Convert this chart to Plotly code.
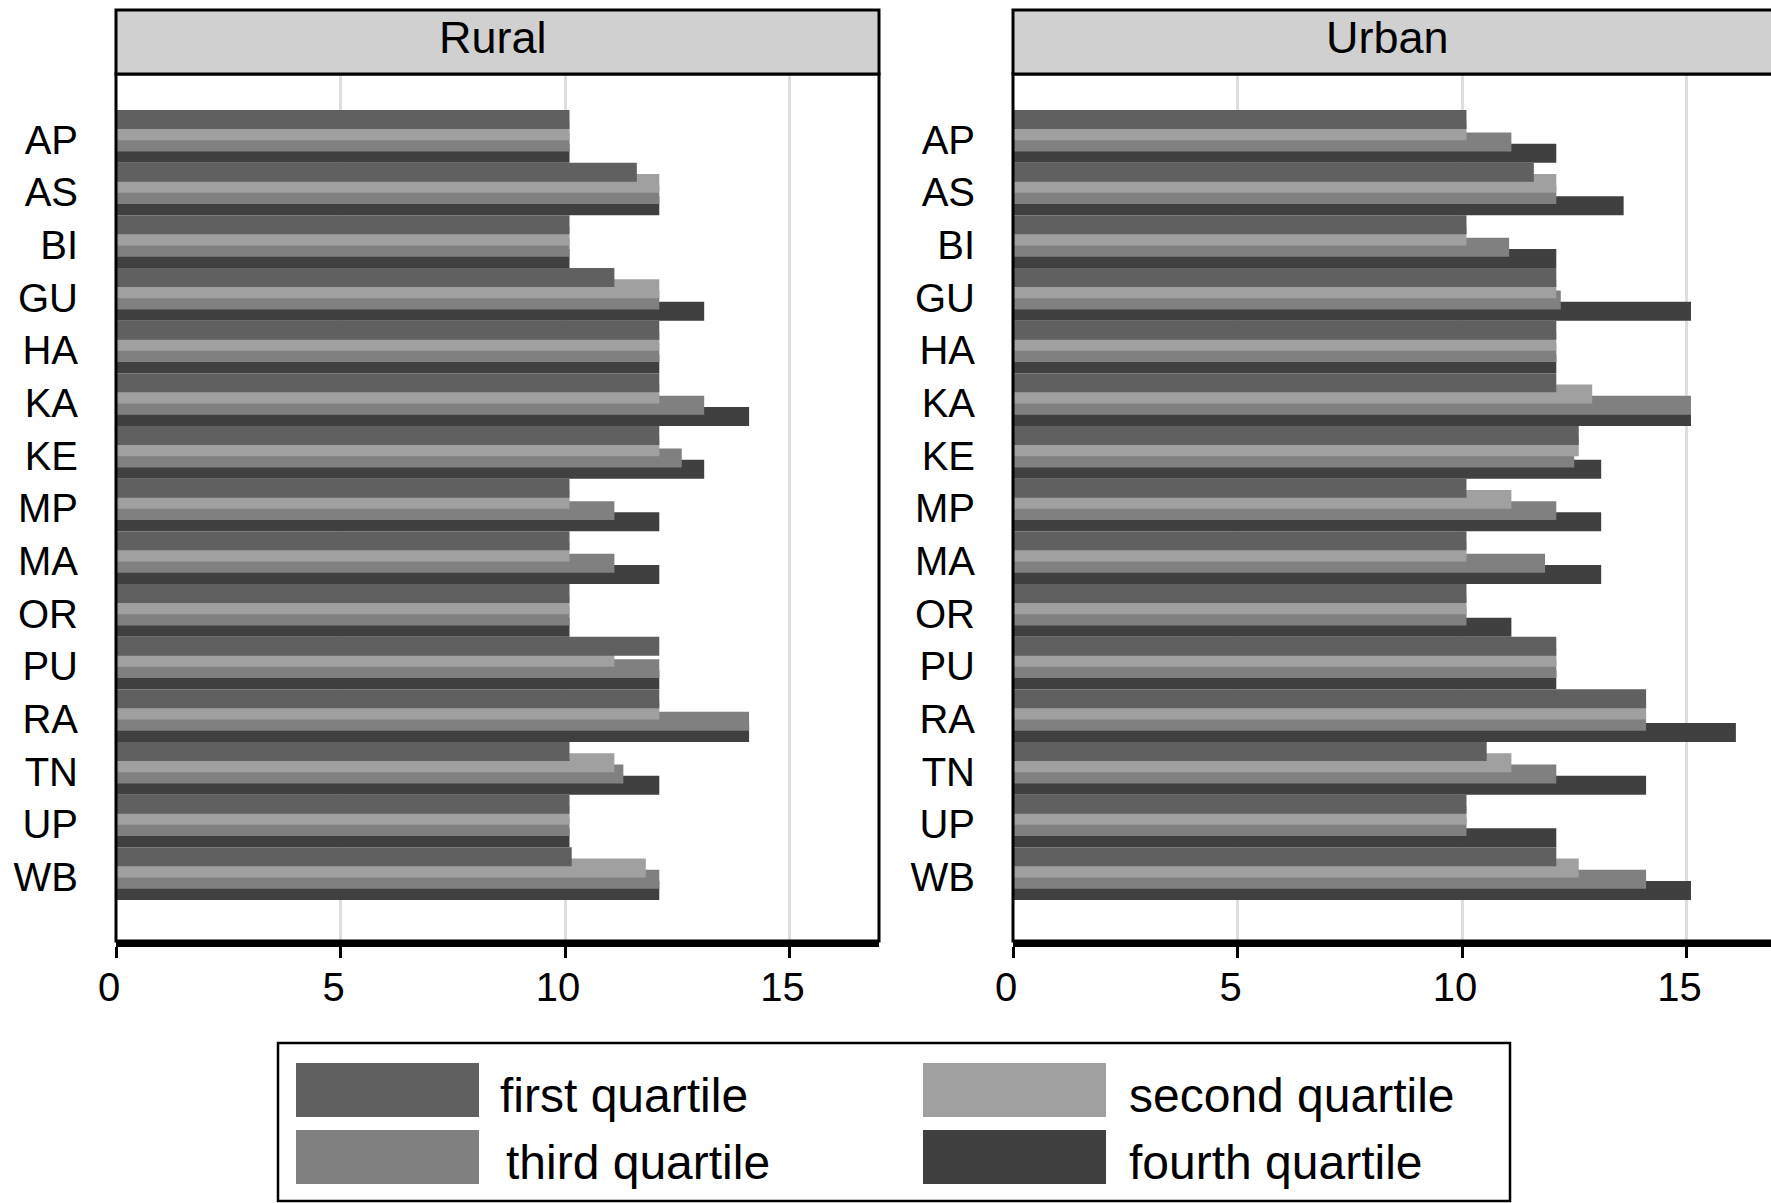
import plotly.graph_objects as go

W, H = 1771, 1203

states = ["AP", "AS", "BI", "GU", "HA", "KA", "KE", "MP", "MA", "OR", "PU", "RA", "TN", "UP", "WB"]

rural_q1 = [10.1, 11.6, 10.1, 11.1, 12.1, 12.1, 12.1, 10.1, 10.1, 10.1, 12.1, 12.1, 10.1, 10.1, 10.15]
rural_q2 = [10.1, 12.1, 10.1, 12.1, 12.1, 12.1, 12.1, 10.1, 10.1, 10.1, 11.1, 12.1, 11.1, 10.1, 11.8]
rural_q3 = [10.1, 12.1, 10.1, 12.1, 12.1, 13.1, 12.6, 11.1, 11.1, 10.1, 12.1, 14.1, 11.3, 10.1, 12.1]
rural_q4 = [10.1, 12.1, 10.1, 13.1, 12.1, 14.1, 13.1, 12.1, 12.1, 10.1, 12.1, 14.1, 12.1, 10.1, 12.1]

urban_q1 = [10.1, 11.6, 10.1, 12.1, 12.1, 12.1, 12.6, 10.1, 10.1, 10.1, 12.1, 14.1, 10.55, 10.1, 12.1]
urban_q2 = [10.1, 12.1, 10.1, 12.1, 12.1, 12.9, 12.6, 11.1, 10.1, 10.1, 12.1, 14.1, 11.1, 10.1, 12.6]
urban_q3 = [11.1, 12.1, 11.05, 12.2, 12.1, 15.1, 12.5, 12.1, 11.85, 10.1, 12.1, 14.1, 12.1, 10.1, 14.1]
urban_q4 = [12.1, 13.6, 12.1, 15.1, 12.1, 15.1, 13.1, 13.1, 13.1, 11.1, 12.1, 16.1, 14.1, 12.1, 15.1]

series_names = ["first quartile", "second quartile", "third quartile", "fourth quartile"]
colors = ["#606060", "#a0a0a0", "#808080", "#404040"]
xticks = [0, 5, 10, 15]

FONT = "Liberation Sans, Arial, Helvetica, sans-serif"


def fx(px):
    return px / W


def fy(py):
    return 1 - py / H


ypos = list(range(len(states)))
label_pos = [p + 0.065 for p in ypos]
BAR_H = 0.36
STEP = (1 - BAR_H) / 3

fig = go.Figure()

panels = [
    ([rural_q1, rural_q2, rural_q3, rural_q4], "x", "y"),
    ([urban_q1, urban_q2, urban_q3, urban_q4], "x2", "y2"),
]
for data, xa, ya in panels:
    # draw fourth first so first quartile ends up on top
    for i in reversed(range(4)):
        fig.add_trace(go.Bar(
            x=data[i], y=ypos, orientation="h",
            name=series_names[i],
            marker=dict(color=colors[i], line=dict(width=0)),
            width=BAR_H, offset=-0.5 + i * STEP,
            xaxis=xa, yaxis=ya, showlegend=False, hoverinfo="x+name",
        ))

# plot area geometry (px)
P_TOP, P_BOT = 74, 941
R_L, R_R = 116, 879
U_L = 1013
PXU = 44.9  # px per unit
grp = (900 - 110) / 15.0
y_top = -0.5 - (110 - P_TOP) / grp
y_bot = 14.5 + (P_BOT - 900) / grp

xcommon = dict(
    tickvals=xticks, ticks="outside", ticklen=11, tickwidth=2.5, tickcolor="black",
    showgrid=True, gridcolor="#dedede", gridwidth=2.5, zeroline=False,
    showline=True, linecolor="black", linewidth=6, automargin=False,
    tickfont=dict(family=FONT, size=40, color="black"),
    ticklabelstandoff=-5, ticklabelshift=-7,
)
ycommon = dict(
    tickvals=label_pos, ticktext=states, ticks="", showgrid=False, zeroline=False,
    showline=False, range=[y_bot, y_top], automargin=False,
    tickfont=dict(family=FONT, size=40, color="black"),
    ticklabelstandoff=37,
)

layout = dict(
    width=W, height=H, margin=dict(l=0, r=0, t=0, b=0, autoexpand=False),
    paper_bgcolor="white", plot_bgcolor="white",
    barmode="overlay", showlegend=False,
    font=dict(family=FONT, color="black"),
    xaxis=dict(domain=[fx(R_L), fx(R_R)], range=[0, (R_R - R_L) / PXU], anchor="y", **xcommon),
    yaxis=dict(domain=[fy(P_BOT), fy(P_TOP)], anchor="x", **ycommon),
    xaxis2=dict(domain=[fx(U_L), 1.0], range=[0, (W - U_L) / PXU], anchor="y2", **xcommon),
    yaxis2=dict(domain=[fy(P_BOT), fy(P_TOP)], anchor="x2", **ycommon),
)
fig.update_layout(**layout)

shapes = []
annotations = []
# panel frames and header strips
for left, right, title, tx in [(R_L, R_R, "Rural", 493), (U_L, U_L + (R_R - R_L), "Urban", 1387)]:
    shapes.append(dict(type="rect", xref="paper", yref="paper",
                       x0=fx(left), x1=fx(right), y0=fy(P_BOT), y1=fy(P_TOP),
                       line=dict(color="black", width=3), fillcolor="rgba(0,0,0,0)", layer="above"))
    shapes.append(dict(type="rect", xref="paper", yref="paper",
                       x0=fx(left), x1=fx(right), y0=fy(P_TOP), y1=fy(10),
                       line=dict(color="black", width=3), fillcolor="#d0d0d0", layer="above"))
    annotations.append(dict(text=title, xref="paper", yref="paper", x=fx(tx), y=fy(38),
                            xanchor="center", yanchor="middle", showarrow=False,
                            font=dict(family=FONT, size=45, color="black")))

# legend box
shapes.append(dict(type="rect", xref="paper", yref="paper",
                   x0=fx(278), x1=fx(1510), y0=fy(1201), y1=fy(1043),
                   line=dict(color="black", width=2.5), fillcolor="white"))
leg_pos = [(296, 1063, 498), (923, 1063, 1127), (296, 1130, 504), (923, 1130, 1127)]
for i, (sx, sy, tx) in enumerate(leg_pos):
    shapes.append(dict(type="rect", xref="paper", yref="paper",
                       x0=fx(sx), x1=fx(sx + 183), y0=fy(sy + 54), y1=fy(sy),
                       line=dict(width=0), fillcolor=colors[i]))
    annotations.append(dict(text=series_names[i], xref="paper", yref="paper",
                            x=fx(tx), y=fy(sy + 32), xanchor="left", yanchor="middle",
                            showarrow=False, font=dict(family=FONT, size=48, color="black")))

fig.update_layout(shapes=shapes, annotations=annotations)
fig.write_html("out.html")
